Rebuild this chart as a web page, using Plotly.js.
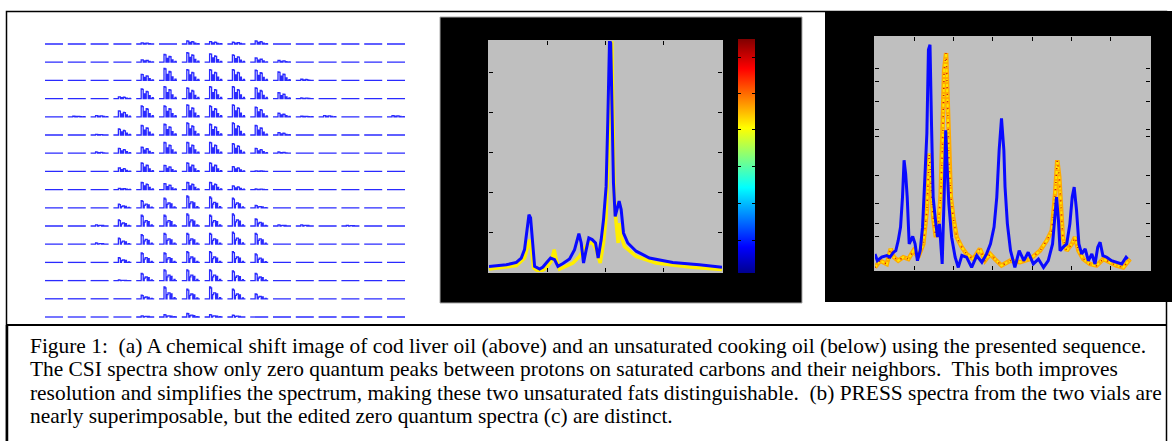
<!DOCTYPE html>
<html><head><meta charset="utf-8">
<script src="https://cdn.plot.ly/plotly-3.0.1.min.js"></script>
<style>html,body{margin:0;padding:0;background:#fff}#chart{width:1172px;height:441px}</style>
</head><body><div id="chart"></div>
<script>
const W = 1172, H = 441;

// ---------- Panel (a): CSI grid, peak amplitude per voxel (rows top->bottom) ----------
const csiAmp = [
  [0,0,0,0,0.1,0,0.25,0.2,0.15,0.25,0,0,0,0,0,0],
  [0,0,0,0,0.2,0.65,0.8,0.7,0.6,0.35,0.15,0,0,0,0,0],
  [0,0,0,0,0.5,1.0,0.9,0.9,0.9,0.85,0.7,0.1,0,0,0,0],
  [0,0,0,0.15,0.8,1.0,0.9,1.0,1.0,0.9,0.5,0.05,0,0,0,0],
  [0,0.05,0.1,0.5,0.9,0.9,1.0,0.9,1.0,0.8,0.3,0.05,0.1,0,0,0.1],
  [0,0,0.05,0.5,0.8,0.9,1.0,0.9,1.0,0.8,0.2,0,0,0,0,0],
  [0,0,0.1,0.4,0.5,0.9,0.9,0.9,0.8,0.4,0.1,0,0,0,0,0],
  [0,0,0,0.3,0.7,0.5,0.7,0.7,0.4,0.05,0,0,0,0,0,0],
  [0,0,0,0.1,0.6,0.5,0.6,0.6,0.3,0.05,0,0,0,0,0,0],
  [0,0,0,0.3,0.6,0.8,1.0,0.9,0.8,0.2,0,0,0,0,0,0],
  [0,0,0.1,0.5,0.9,0.9,1.0,0.9,1.0,0.6,0.1,0.1,0,0.05,0,0],
  [0,0,0.1,0.5,0.8,0.9,0.9,0.9,1.0,0.9,0,0,0,0,0,0],
  [0,0,0,0.4,0.8,0.8,0.9,0.9,0.9,0.7,0,0,0,0,0,0],
  [0,0,0,0.05,0.6,0.9,0.9,0.9,0.8,0.6,0,0,0,0,0,0],
  [0,0,0,0,0.3,1.0,0.8,1.0,0.8,0.4,0,0,0,0,0,0],
  [0,0,0,0,0.1,0.2,0.3,0.2,0.15,0,0,0,0,0,0,0]
];
// spectrum shape inside one voxel, one value per pixel column (cod liver oil = upper vial, cooking oil = lower vial)
const upperShape = [0,0,0,0,0,1.0,0.95,0,0.5,0,0.75,0.7,0,0.3,0,0,0.1,0,0];
const lowerShape = [0,0,0,0,0,1.0,0.9,0,0.35,0.5,0.5,0,0.4,0,0,0.1,0,0,0];
const upperVialRows = 9;

// ---------- Panel (b): PRESS spectra ----------
const pressBlueX = [0,0.297,0.47,0.554,0.61,0.65,0.686,0.714,0.743,0.783,0.869,0.926,0.983,1.057,1.126,1.183,1.269,1.383,1.469,1.543,1.583,1.623,1.669,1.714,1.771,1.829,1.874,1.926,1.966,2.011,2.04,2.069,2.09,2.11,2.137,2.166,2.2,2.234,2.269,2.309,2.383,2.526,2.754,3.154,3.611,4.0];
const pressBlueY = [0.14,0.18,0.24,0.35,0.56,0.975,1.43,1.35,0.725,0.14,0.075,0.125,0.225,0.35,0.31,0.14,0.21,0.325,0.56,0.96,0.725,0.225,0.56,0.85,0.81,0.725,0.35,0.81,1.31,2.14,3.81,5.79,5.72,4.06,2.22,1.39,1.56,1.77,1.56,0.975,0.725,0.52,0.35,0.24,0.18,0.12];
const pressYellowX = [0,0.47,0.61,0.697,0.731,0.766,0.869,0.983,1.069,1.12,1.154,1.211,1.44,1.554,1.64,1.714,1.783,1.84,1.909,1.966,2.011,2.057,2.086,2.109,2.126,2.149,2.183,2.217,2.24,2.269,2.326,2.526,2.869,3.44,4.0];
const pressYellowY = [0.075,0.16,0.35,0.81,0.56,0.1,0.0,0.1,0.27,0.56,0.31,0.075,0.225,0.39,0.6,0.725,0.725,0.56,0.225,0.725,1.39,3.22,4.89,5.77,4.06,1.89,1.22,0.725,1.22,0.89,0.64,0.39,0.225,0.125,0.06];
const pressXTicks = [1,2,3];
const pressYTicks = [1,2,3,4,5];
const colorbarTicks = [0.141,0.299,0.457,0.615,0.769,0.923];

// ---------- Panel (c): edited zero quantum spectra ----------
const zqBlueX = [0,0.06,0.17,0.3,0.38,0.47,0.53,0.59,0.65,0.70,0.74,0.78,0.82,0.87,0.91,0.96,1.02,1.08,1.15,1.21,1.27,1.32,1.36,1.40,1.44,1.48,1.53,1.59,1.64,1.67,1.71,1.76,1.80,1.84,1.88,1.95,2.04,2.12,2.21,2.33,2.46,2.59,2.72,2.84,2.94,3.03,3.10,3.16,3.22,3.28,3.31,3.37,3.45,3.56,3.67,3.79,3.90,4.03,4.16,4.29,4.41,4.52,4.58,4.62,4.67,4.71,4.79,4.88,4.96,5.02,5.07,5.13,5.19,5.26,5.35,5.43,5.52,5.60,5.67,5.73,5.80,5.90,6.02,6.15,6.28,6.39,6.43];
const zqBlueY = [0.69,0.40,0.55,0.62,0.55,0.76,0.83,1.26,1.84,3.13,4.71,4.14,3.13,1.12,1.26,1.44,1.12,0.40,0.83,1.84,3.99,5.86,9.45,9.67,6.15,3.13,2.27,1.41,1.98,1.12,0.26,3.13,6.0,4.28,2.84,1.41,0.55,0.11,0.62,0.55,0.11,0.62,0.33,0.69,1.12,1.84,3.13,5.14,6.51,5.14,3.56,1.98,0.83,0.11,0.83,0.40,0.76,0.26,0.47,0.11,0.40,1.12,2.27,3.13,2.13,0.83,0.98,1.12,1.98,3.13,3.56,2.56,1.12,0.69,0.91,0.40,0.69,0.26,0.98,1.19,0.62,0.55,0.40,0.33,0.26,0.55,0.47];
const zqYellowX = [0,0.13,0.30,0.40,0.48,0.59,0.72,0.85,0.98,1.10,1.23,1.32,1.38,1.43,1.48,1.55,1.61,1.67,1.72,1.76,1.81,1.84,1.88,1.93,1.99,2.08,2.21,2.33,2.50,2.67,2.80,2.93,3.05,3.22,3.44,3.69,3.95,4.20,4.37,4.50,4.58,4.64,4.69,4.73,4.78,4.88,5.01,5.09,5.18,5.30,5.47,5.64,5.81,5.98,6.15,6.32,6.49];
const zqYellowY = [0.11,0.40,0.26,0.91,0.55,0.40,0.55,0.47,0.83,0.55,1.12,2.56,5.0,3.71,2.27,1.41,1.98,3.13,5.43,8.59,9.31,7.59,4.71,3.13,2.27,1.41,0.98,0.69,0.47,0.91,0.40,0.69,0.47,0.19,0.40,0.33,0.47,0.83,1.26,1.70,3.13,4.71,3.99,2.56,1.41,0.83,1.12,1.41,0.83,0.47,0.26,0.19,0.47,0.33,0.19,0.11,0.47];
const zqXTicks = [1,2,3,4,5,6];
const zqYTicks = [1.44,2.01,2.87,4.04,5.75,6.03,7.23,8.09,8.66];

const captionLines = [
  "Figure 1:\u00a0 (a) A chemical shift image of cod liver oil (above) and an unsaturated cooking oil (below) using the presented sequence.",
  "The CSI spectra show only zero quantum peaks between protons on saturated carbons and their neighbors.\u00a0 This both improves",
  "resolution and simplifies the spectrum, making these two unsaturated fats distinguishable.\u00a0 (b) PRESS spectra from the two vials are",
  "nearly superimposable, but the edited zero quantum spectra (c) are distinct."
];

// ---------- helpers ----------
const fx = p => p / W;
const fy = p => 1 - p / H;
const BLUE = '#0a0aff';
const GRAY = '#bfbfbf';
const jet = [[0,'rgb(0,0,143)'],[0.111,'rgb(0,0,255)'],[0.365,'rgb(0,255,255)'],[0.619,'rgb(255,255,0)'],[0.873,'rgb(255,0,0)'],[1,'rgb(128,0,0)']];

// build CSI grid trace
const gx = [], gy = [];
const cellFrac = 0.79, peakScale = 0.66;
csiAmp.forEach((row, r) => {
  const shape = r < upperVialRows ? upperShape : lowerShape;
  row.forEach((a, c) => {
    shape.forEach((s, k) => {
      gx.push(c + cellFrac * k / (shape.length - 1));
      gy.push(-r + peakScale * a * s);
    });
    gx.push(null); gy.push(null);
  });
});

const traces = [
  {x: gx, y: gy, xaxis: 'x', yaxis: 'y', mode: 'lines', line: {color: '#2a2aff', width: 1.3, shape: 'hv'}, hoverinfo: 'skip', connectgaps: false},
  {x: pressYellowX, y: pressYellowY, xaxis: 'x2', yaxis: 'y2', mode: 'lines', line: {color: '#ffee00', width: 3.5}},
  {x: pressBlueX, y: pressBlueY, xaxis: 'x2', yaxis: 'y2', mode: 'lines', line: {color: BLUE, width: 3}},
  {x: [0,1,1,0,0], y: [0,0,1,1,0], xaxis: 'x3', yaxis: 'y3', mode: 'lines', line: {width: 0},
   fill: 'toself', fillgradient: {type: 'vertical', colorscale: jet}},
  {x: zqYellowX, y: zqYellowY, xaxis: 'x4', yaxis: 'y4', mode: 'lines', line: {color: '#ffaa00', width: 4.5}},
  {x: zqYellowX, y: zqYellowY, xaxis: 'x4', yaxis: 'y4', mode: 'lines', line: {color: '#ffe600', width: 2, dash: '3px,2px'}},
  {x: zqYellowX, y: zqYellowY, xaxis: 'x4', yaxis: 'y4', mode: 'lines', line: {color: '#d01a10', width: 1.5, dash: '1px,6px'}},
  {x: zqBlueX, y: zqBlueY, xaxis: 'x4', yaxis: 'y4', mode: 'lines', line: {color: BLUE, width: 3}}
];

const tickAx = extra => Object.assign({
  showgrid: false, zeroline: false, showticklabels: false, ticks: 'inside', ticklen: 4,
  tickwidth: 1, tickcolor: '#000', mirror: 'ticks', showline: true, linecolor: GRAY, linewidth: 1,
  tickmode: 'array', fixedrange: true
}, extra);

const annotations = captionLines.map((t, i) => ({
  xref: 'paper', yref: 'paper', x: fx(28), y: fy(346 + i * 23.3), xanchor: 'left', yanchor: 'middle',
  text: t, showarrow: false, align: 'left',
  font: {family: '"Liberation Serif", "Times New Roman", serif', size: 21.4, color: '#000'}
}));

const rect = (x0, y0, x1, y1, fill, line) => ({
  type: 'rect', xref: 'paper', yref: 'paper', x0: fx(x0), x1: fx(x1), y0: fy(y1), y1: fy(y0),
  fillcolor: fill, line: line || {width: 0}, layer: 'below'
});

const shapes = [
  rect(6.5, 11.5, 1166.5, 460, 'rgba(0,0,0,0)', {color: '#000', width: 1.5}),
  {type: 'line', xref: 'paper', yref: 'paper', x0: fx(6.5), x1: fx(1167), y0: fy(325), y1: fy(325), line: {color: '#000', width: 2}, layer: 'below'},
  {type: 'line', xref: 'paper', yref: 'paper', x0: fx(7), x1: fx(7), y0: fy(325), y1: fy(445), line: {color: '#000', width: 2.5}, layer: 'below'},
  rect(440, 17, 802, 303, '#000', {color: '#aaaaaa', width: 1}),
  rect(489, 41, 722, 272, GRAY),
  rect(825, 11, 1172, 302, '#000'),
  rect(875, 37, 1150, 270, GRAY)
];

const layout = {
  width: W, height: H, margin: {l: 0, r: 0, t: 0, b: 0, pad: 0},
  paper_bgcolor: '#fff', plot_bgcolor: 'rgba(0,0,0,0)', showlegend: false,
  xaxis: {domain: [fx(45), fx(45 + 16 * 22.8)], range: [0, 16], visible: false, fixedrange: true},
  yaxis: {domain: [fy(44 + 15.5 * 18.2), fy(44 - 0.8 * 18.2)], range: [-15.5, 0.8], visible: false, fixedrange: true},
  xaxis2: tickAx({domain: [fx(489), fx(722)], range: [0, 4], tickvals: pressXTicks, anchor: 'y2'}),
  yaxis2: tickAx({domain: [fy(272), fy(41)], range: [0, 5.775], tickvals: pressYTicks, anchor: 'x2'}),
  xaxis3: {domain: [fx(738), fx(755)], range: [0, 1], visible: false, anchor: 'y3', fixedrange: true},
  yaxis3: tickAx({domain: [fy(273), fy(39)], range: [0, 1], tickvals: colorbarTicks, anchor: 'x3', showline: false, ticklen: 3}),
  xaxis4: tickAx({domain: [fx(875), fx(1150)], range: [0, 7], tickvals: zqXTicks, anchor: 'y4'}),
  yaxis4: tickAx({domain: [fy(270), fy(37)], range: [0, 10], tickvals: zqYTicks, anchor: 'x4'}),
  shapes: shapes,
  annotations: annotations
};

Plotly.newPlot('chart', traces, layout, {displayModeBar: false, staticPlot: true});
</script>
</body></html>
